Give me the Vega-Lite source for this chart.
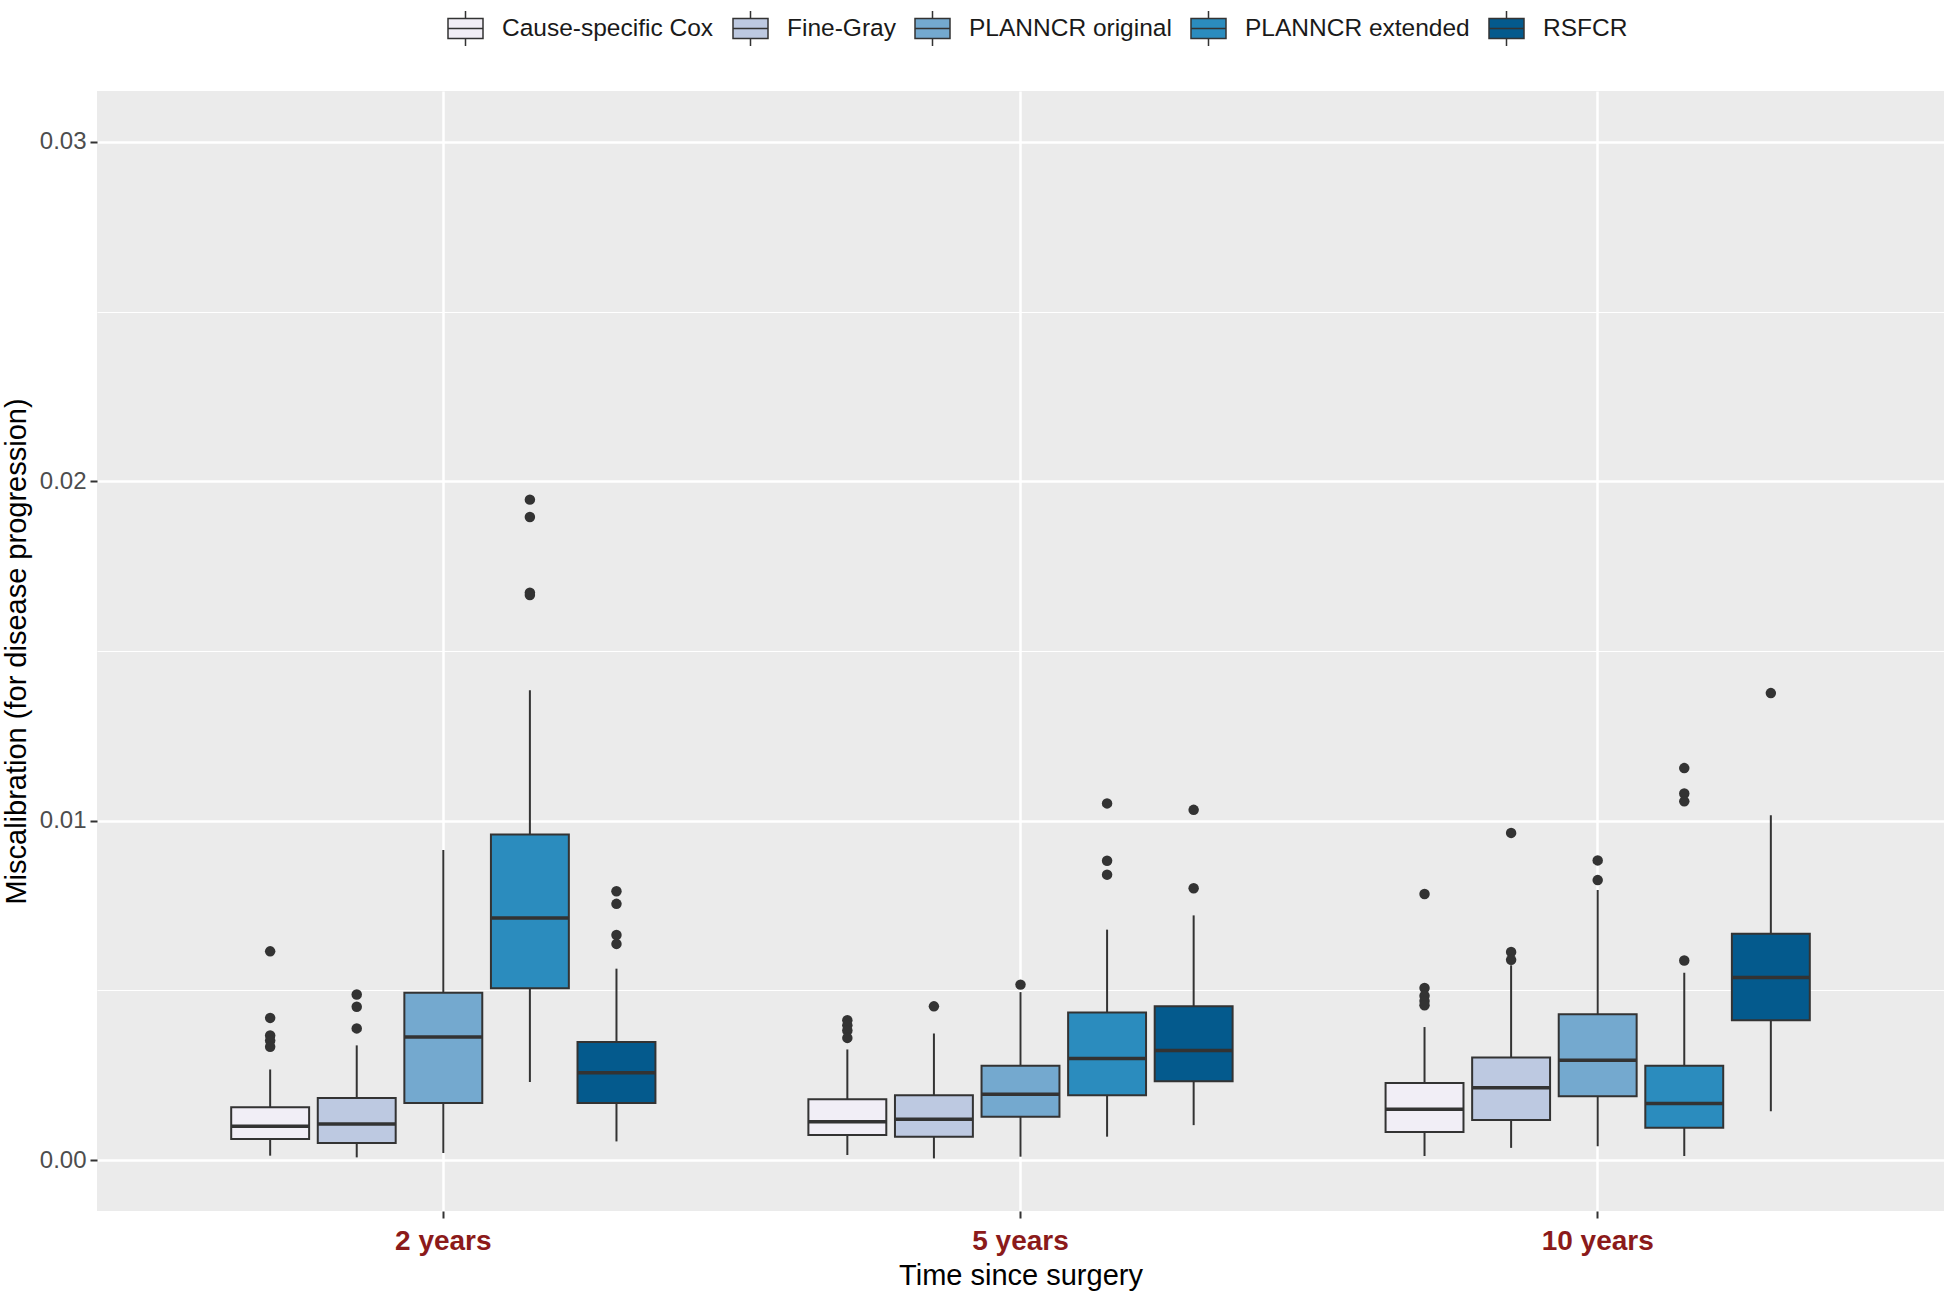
{
  "$schema": "https://vega.github.io/schema/vega-lite/v6.json",
  "width": 1847,
  "height": 1120,
  "autosize": {"type": "none"},
  "padding": {"left": 97, "top": 91, "right": 2, "bottom": 84},
  "background": "white",
  "config": {
    "view": {"fill": "#EBEBEB", "stroke": null},
    "font": "Liberation Sans"
  },
  "datasets": {
    "boxes": [
      {"time": "2 years", "method": "Cause-specific Cox", "lower": 0.00013, "q1": 0.00062, "median": 0.00100, "q3": 0.00156, "upper": 0.00267},
      {"time": "2 years", "method": "Fine-Gray", "lower": 0.00008, "q1": 0.00050, "median": 0.00106, "q3": 0.00183, "upper": 0.00338},
      {"time": "2 years", "method": "PLANNCR original", "lower": 0.00021, "q1": 0.00168, "median": 0.00363, "q3": 0.00493, "upper": 0.00914},
      {"time": "2 years", "method": "PLANNCR extended", "lower": 0.00230, "q1": 0.00506, "median": 0.00713, "q3": 0.00959, "upper": 0.01384},
      {"time": "2 years", "method": "RSFCR", "lower": 0.00055, "q1": 0.00168, "median": 0.00257, "q3": 0.00348, "upper": 0.00564},
      {"time": "5 years", "method": "Cause-specific Cox", "lower": 0.00015, "q1": 0.00074, "median": 0.00113, "q3": 0.00179, "upper": 0.00326},
      {"time": "5 years", "method": "Fine-Gray", "lower": 0.00005, "q1": 0.00069, "median": 0.00120, "q3": 0.00191, "upper": 0.00373},
      {"time": "5 years", "method": "PLANNCR original", "lower": 0.00010, "q1": 0.00128, "median": 0.00194, "q3": 0.00278, "upper": 0.00495},
      {"time": "5 years", "method": "PLANNCR extended", "lower": 0.00069, "q1": 0.00191, "median": 0.00299, "q3": 0.00435, "upper": 0.00679},
      {"time": "5 years", "method": "RSFCR", "lower": 0.00103, "q1": 0.00232, "median": 0.00323, "q3": 0.00453, "upper": 0.00721},
      {"time": "10 years", "method": "Cause-specific Cox", "lower": 0.00012, "q1": 0.00083, "median": 0.00150, "q3": 0.00227, "upper": 0.00392},
      {"time": "10 years", "method": "Fine-Gray", "lower": 0.00036, "q1": 0.00118, "median": 0.00213, "q3": 0.00302, "upper": 0.00574},
      {"time": "10 years", "method": "PLANNCR original", "lower": 0.00041, "q1": 0.00188, "median": 0.00294, "q3": 0.00430, "upper": 0.00796},
      {"time": "10 years", "method": "PLANNCR extended", "lower": 0.00012, "q1": 0.00095, "median": 0.00167, "q3": 0.00278, "upper": 0.00552},
      {"time": "10 years", "method": "RSFCR", "lower": 0.00144, "q1": 0.00412, "median": 0.00538, "q3": 0.00667, "upper": 0.01016}
    ],
    "outliers": [
      {"time": "2 years", "method": "Cause-specific Cox", "value": 0.00615},
      {"time": "2 years", "method": "Cause-specific Cox", "value": 0.00419},
      {"time": "2 years", "method": "Cause-specific Cox", "value": 0.00367},
      {"time": "2 years", "method": "Cause-specific Cox", "value": 0.00352},
      {"time": "2 years", "method": "Cause-specific Cox", "value": 0.00334},
      {"time": "2 years", "method": "Fine-Gray", "value": 0.00488},
      {"time": "2 years", "method": "Fine-Gray", "value": 0.00452},
      {"time": "2 years", "method": "Fine-Gray", "value": 0.00388},
      {"time": "2 years", "method": "PLANNCR extended", "value": 0.01946},
      {"time": "2 years", "method": "PLANNCR extended", "value": 0.01895},
      {"time": "2 years", "method": "PLANNCR extended", "value": 0.01672},
      {"time": "2 years", "method": "PLANNCR extended", "value": 0.01665},
      {"time": "2 years", "method": "RSFCR", "value": 0.00792},
      {"time": "2 years", "method": "RSFCR", "value": 0.00755},
      {"time": "2 years", "method": "RSFCR", "value": 0.00663},
      {"time": "2 years", "method": "RSFCR", "value": 0.00637},
      {"time": "5 years", "method": "Cause-specific Cox", "value": 0.00412},
      {"time": "5 years", "method": "Cause-specific Cox", "value": 0.00397},
      {"time": "5 years", "method": "Cause-specific Cox", "value": 0.00382},
      {"time": "5 years", "method": "Cause-specific Cox", "value": 0.00360},
      {"time": "5 years", "method": "Fine-Gray", "value": 0.00453},
      {"time": "5 years", "method": "PLANNCR original", "value": 0.00517},
      {"time": "5 years", "method": "PLANNCR extended", "value": 0.01051},
      {"time": "5 years", "method": "PLANNCR extended", "value": 0.00882},
      {"time": "5 years", "method": "PLANNCR extended", "value": 0.00841},
      {"time": "5 years", "method": "RSFCR", "value": 0.01032},
      {"time": "5 years", "method": "RSFCR", "value": 0.00801},
      {"time": "10 years", "method": "Cause-specific Cox", "value": 0.00784},
      {"time": "10 years", "method": "Cause-specific Cox", "value": 0.00507},
      {"time": "10 years", "method": "Cause-specific Cox", "value": 0.00484},
      {"time": "10 years", "method": "Cause-specific Cox", "value": 0.00469},
      {"time": "10 years", "method": "Cause-specific Cox", "value": 0.00456},
      {"time": "10 years", "method": "Fine-Gray", "value": 0.00964},
      {"time": "10 years", "method": "Fine-Gray", "value": 0.00613},
      {"time": "10 years", "method": "Fine-Gray", "value": 0.00590},
      {"time": "10 years", "method": "PLANNCR original", "value": 0.00883},
      {"time": "10 years", "method": "PLANNCR original", "value": 0.00825},
      {"time": "10 years", "method": "PLANNCR extended", "value": 0.01155},
      {"time": "10 years", "method": "PLANNCR extended", "value": 0.01080},
      {"time": "10 years", "method": "PLANNCR extended", "value": 0.01057},
      {"time": "10 years", "method": "PLANNCR extended", "value": 0.00588},
      {"time": "10 years", "method": "RSFCR", "value": 0.01376}
    ]
  },
  "encoding": {
    "x": {
      "field": "time",
      "type": "nominal",
      "sort": ["2 years", "5 years", "10 years"],
      "title": "Time since surgery",
      "scale": {"domain": ["2 years", "5 years", "10 years"], "paddingInner": 0.25, "paddingOuter": 0.225},
      "axis": {
        "grid": true,
        "gridColor": "white",
        "gridWidth": 2.5,
        "bandPosition": 0.5,
        "domain": false,
        "tickColor": "#333333",
        "tickSize": 7,
        "tickWidth": 2,
        "labelAngle": 0,
        "labelFontSize": 28,
        "labelFontWeight": "bold",
        "labelColor": "#8B1A1A",
        "labelPadding": 9,
        "titleFontSize": 29,
        "titleFontWeight": "normal",
        "titleColor": "#000000",
        "titlePadding": 6
      }
    },
    "xOffset": {
      "field": "method",
      "type": "nominal",
      "sort": ["Cause-specific Cox", "Fine-Gray", "PLANNCR original", "PLANNCR extended", "RSFCR"],
      "scale": {"domain": ["Cause-specific Cox", "Fine-Gray", "PLANNCR original", "PLANNCR extended", "RSFCR"], "paddingInner": 0.1, "paddingOuter": 0.05}
    }
  },
  "layer": [
    {
      "data": {"name": "boxes"},
      "mark": {"type": "rule", "color": "#333333", "strokeWidth": 2, "opacity": 1},
      "encoding": {
        "y": {
          "field": "lower",
          "type": "quantitative",
          "title": "Miscalibration (for disease progression)",
          "scale": {"domain": [-0.0015, 0.0315], "nice": false, "zero": false},
          "axis": {
            "values": [0, 0.005, 0.01, 0.015, 0.02, 0.025, 0.03],
            "labelExpr": "round(datum.value*1000) % 10 == 0 ? format(datum.value, '.2f') : ''",
            "grid": true,
            "gridColor": "white",
            "gridWidth": {"condition": {"test": "round(datum.value*1000) % 10 != 0", "value": 1.2}, "value": 2.5},
            "tickColor": {"condition": {"test": "round(datum.value*1000) % 10 != 0", "value": "transparent"}, "value": "#333333"},
            "domain": false,
            "tickSize": 7,
            "tickWidth": 2,
            "labelFontSize": 24,
            "labelColor": "#4D4D4D",
            "labelPadding": 4,
            "titleFontSize": 29,
            "titleFontWeight": "normal",
            "titleColor": "#000000",
            "titlePadding": 8
          }
        },
        "y2": {"field": "upper"}
      }
    },
    {
      "data": {"name": "boxes"},
      "mark": {"type": "bar", "stroke": "#333333", "strokeWidth": 2, "opacity": 1},
      "encoding": {
        "y": {"field": "q1", "type": "quantitative", "title": "Miscalibration (for disease progression)"},
        "y2": {"field": "q3"},
        "fill": {
          "field": "method",
          "type": "nominal",
          "sort": ["Cause-specific Cox", "Fine-Gray", "PLANNCR original", "PLANNCR extended", "RSFCR"],
          "scale": {
            "domain": ["Cause-specific Cox", "Fine-Gray", "PLANNCR original", "PLANNCR extended", "RSFCR"],
            "range": ["#F1EEF6", "#BDC9E1", "#74A9CF", "#2B8CBE", "#045A8D"]
          },
          "legend": {
            "title": null,
            "orient": "none",
            "legendX": 350,
            "legendY": -81,
            "direction": "horizontal",
            "padding": 0,
            "symbolType": "M-1,-0.57H1V0.57H-1Z M0,-0.57V-1 M0,0.57V1 M-1,0H1",
            "symbolSize": 1225,
            "symbolStrokeColor": "#333333",
            "symbolStrokeWidth": 1.5,
            "symbolOpacity": 1,
            "labelFontSize": 24.5,
            "labelColor": "#1A1A1A",
            "labelOffset": 18,
            "columnPadding": 16,
            "labelLimit": 400
          }
        }
      }
    },
    {
      "data": {"name": "boxes"},
      "mark": {"type": "tick", "color": "#333333", "thickness": 3.5, "size": 78, "opacity": 1},
      "encoding": {
        "y": {"field": "median", "type": "quantitative", "title": "Miscalibration (for disease progression)"}
      }
    },
    {
      "data": {"name": "outliers"},
      "mark": {"type": "circle", "color": "#333333", "size": 110, "opacity": 1},
      "encoding": {
        "y": {"field": "value", "type": "quantitative", "title": "Miscalibration (for disease progression)"}
      }
    }
  ]
}
